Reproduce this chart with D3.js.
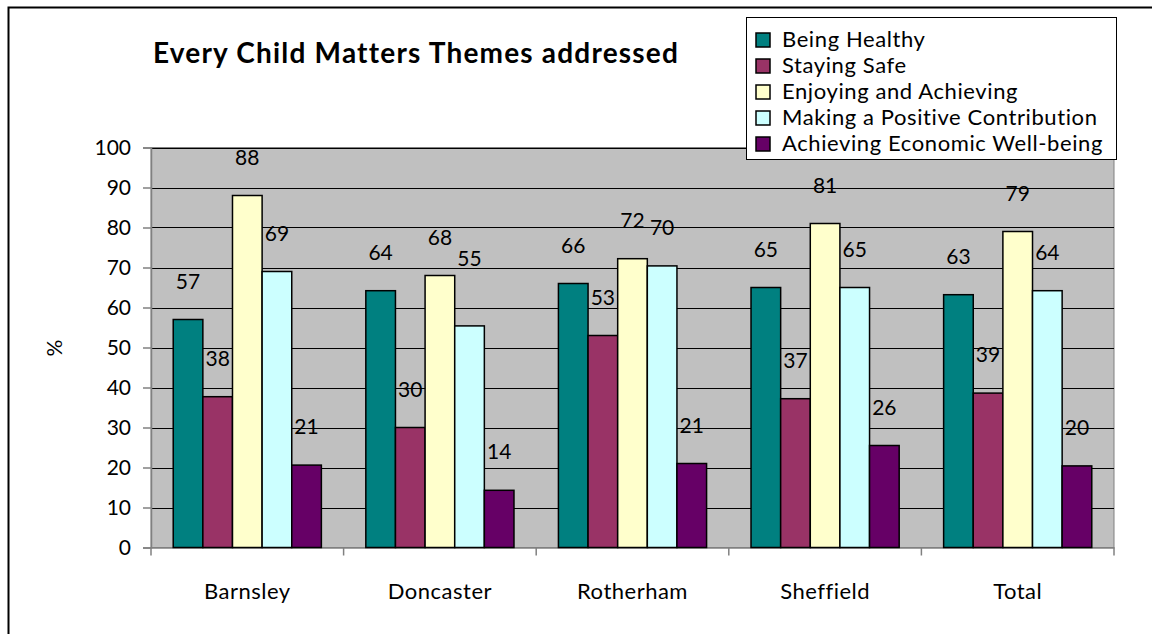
<!DOCTYPE html>
<html>
<head>
<meta charset="utf-8">
<script src="https://cdn.jsdelivr.net/npm/d3@7"></script>
<style>
  html, body { margin: 0; padding: 0; background: #fff; }
  svg { display: block; font-family: Lato, "DejaVu Sans", sans-serif; }
</style>
</head>
<body>
<svg id="chart" width="1152" height="634"></svg>
<script>
const categories = ["Barnsley", "Doncaster", "Rotherham", "Sheffield", "Total"];
const seriesNames = ["Being Healthy", "Staying Safe", "Enjoying and Achieving", "Making a Positive Contribution", "Achieving Economic Well-being"];
const beingHealthy  = [57, 64.2, 66, 65, 63.2];
const stayingSafe   = [37.7, 30, 53, 37.2, 38.6];
const enjoying      = [88, 68, 72.2, 81, 79];
const positive      = [69, 55.4, 70.4, 65, 64.2];
const economic      = [20.6, 14.3, 21, 25.5, 20.4];
const seriesColors  = ["#008080", "#993366", "#FFFFCC", "#CCFFFF", "#660066"];
const yTicks = [0, 10, 20, 30, 40, 50, 60, 70, 80, 90, 100];
const title = "Every Child Matters Themes addressed";
const yTitle = "%";

const seriesValues = [beingHealthy, stayingSafe, enjoying, positive, economic];

const svg = d3.select("#chart");
const plot = { left: 151, right: 1114, top: 147.5, bottom: 547.5 };
// the one data label that was dragged higher in the original chart (Doncaster, 4th series)
const labelLift = (cat, j) => (cat === "Doncaster" && j === 3 ? 29 : 0);

// outer border
svg.append("rect").attr("x", 8.5).attr("y", 7.5).attr("width", 1160).attr("height", 640)
  .attr("fill", "#fff").attr("stroke", "#000").attr("stroke-width", 2);

const x0 = d3.scaleBand().domain(categories).range([plot.left, plot.right]).paddingInner(0).paddingOuter(0);
const x1 = d3.scaleBand().domain(seriesNames).range([0, x0.bandwidth()]).paddingInner(0).paddingOuter(0.75);
const y = d3.scaleLinear().domain([0, 100]).range([plot.bottom, plot.top]);

// plot area
svg.append("rect").attr("x", plot.left).attr("y", plot.top)
  .attr("width", plot.right - plot.left).attr("height", plot.bottom - plot.top)
  .attr("fill", "#C0C0C0").attr("stroke", "#808080").attr("stroke-width", 1);

// gridlines
svg.append("g").selectAll("line").data(yTicks.filter(d => d > 0)).join("line")
  .attr("x1", plot.left).attr("x2", plot.right)
  .attr("y1", d => Math.round(y(d)) + 0.5).attr("y2", d => Math.round(y(d)) + 0.5)
  .attr("stroke", "#000").attr("stroke-width", 1);

// y axis
const yAxis = d3.axisLeft(y).tickValues(yTicks).tickSize(8).tickPadding(12).tickFormat(d3.format("d"));
const gy = svg.append("g").attr("transform", `translate(${plot.left},0)`).call(yAxis);
gy.select(".domain").attr("stroke", "#808080").attr("stroke-width", 1.5);
gy.selectAll(".tick line").attr("stroke", "#808080").attr("stroke-width", 1.5);
gy.selectAll(".tick text").attr("font-size", 21).attr("fill", "#000").attr("font-family", "Lato");

// x axis
const xAxis = d3.axisBottom(x0).tickSize(0).tickPadding(36);
const gx = svg.append("g").attr("transform", `translate(0,${plot.bottom})`).call(xAxis);
gx.select(".domain").attr("stroke", "#808080").attr("stroke-width", 1.5);
gx.selectAll(".tick text").attr("font-size", 22).attr("letter-spacing", 0.5)
  .attr("fill", "#000").attr("font-family", "Lato");
// category separators
const sepX = categories.map(c => x0(c)).concat([x0(categories[categories.length - 1]) + x0.bandwidth()]);
svg.append("g").selectAll("line").data(sepX).join("line")
  .attr("x1", d => d).attr("x2", d => d)
  .attr("y1", plot.bottom).attr("y2", plot.bottom + 8)
  .attr("stroke", "#808080").attr("stroke-width", 1.5);

// bars
const groups = svg.append("g").selectAll("g").data(categories).join("g")
  .attr("transform", c => `translate(${x0(c)},0)`);
groups.selectAll("rect").data((c, i) => seriesNames.map((s, j) => ({ c, s, j, v: seriesValues[j][i] })))
  .join("rect")
  .attr("x", d => x1(d.s)).attr("width", x1.bandwidth())
  .attr("y", d => y(d.v)).attr("height", d => y(0) - y(d.v))
  .attr("fill", d => seriesColors[d.j]).attr("stroke", "#000").attr("stroke-width", 1.5);

// value labels
groups.selectAll("text").data((c, i) => seriesNames.map((s, j) => ({ c, s, j, v: seriesValues[j][i] })))
  .join("text")
  .attr("x", d => x1(d.s) + x1.bandwidth() / 2)
  .attr("y", d => y(d.v) - 31 - labelLift(d.c, d.j))
  .attr("text-anchor", "middle").attr("font-size", 21).attr("fill", "#000")
  .text(d => d3.format(".0f")(d.v));

// title
svg.append("text").attr("x", 416).attr("y", 63).attr("text-anchor", "middle")
  .attr("font-size", 28).attr("letter-spacing", 1.2).attr("font-weight", "bold").text(title);

// y title
svg.append("text").attr("transform", "translate(62,348) rotate(-90)")
  .attr("text-anchor", "middle").attr("font-size", 21).text(yTitle);

// legend
const lg = svg.append("g");
lg.append("rect").attr("x", 746.5).attr("y", 17.5).attr("width", 370).attr("height", 142)
  .attr("fill", "#fff").attr("stroke", "#000").attr("stroke-width", 1);
const items = lg.selectAll("g").data(seriesNames).join("g")
  .attr("transform", (d, i) => `translate(756,${47 + i * 26})`);
items.append("rect").attr("x", 0).attr("y", -14).attr("width", 14).attr("height", 14)
  .attr("fill", (d, i) => seriesColors[i]).attr("stroke", "#000").attr("stroke-width", 1.5);
items.append("text").attr("x", 26).attr("y", 0).attr("font-size", 22).attr("letter-spacing", 0.6).text(d => d);
</script>
</body>
</html>
